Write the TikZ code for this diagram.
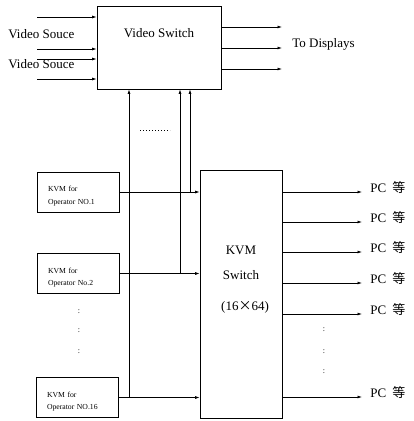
\documentclass[tikz,border=0pt]{standalone}
\usepackage{fontspec}
\setmainfont{Liberation Serif}
\newfontfamily\cjk{Noto Sans CJK SC}
\usetikzlibrary{positioning, arrows.meta}

\begin{document}
\begin{tikzpicture}[x=1pt, y=-1pt, line width=0.7pt,
    box/.style={rectangle, draw, inner sep=0pt},
    opbox/.style={box, minimum width=82pt, minimum height=40pt},
    optext/.style={inner sep=0pt, text width=60pt, align=left, yshift=-4pt,
        font=\fontsize{7.7}{12.5}\selectfont},
    arr/.style={-{Latex[length=4.5pt,width=3pt]}},
    lbl/.style={inner sep=0pt, font=\fontsize{13}{15}\selectfont},
    vdots/.style={inner sep=0pt, font=\fontsize{8}{8}\selectfont}]
    \useasboundingbox (0,0) rectangle (414,421);

    % video switch
    \node[box, minimum width=124pt, minimum height=83pt] (VS) at (159,47.5) {};
    \node[lbl] (VSname) at (159,33) {Video Switch};
    \node[lbl, anchor=west] (src1) at (8,34) {Video Souce};
    \node[lbl, anchor=west] (src2) at (8,64) {Video Souce};
    \node[lbl, anchor=west] (disp) at (292,44) {To Displays};
    \foreach \y [count=\i] in {17,49,59,79} {
        \coordinate (in\i) at (37,\y);
        \draw[arr] (in\i) -- (in\i -| VS.west);
    }
    \foreach \y [count=\i] in {27,48,69} {
        \coordinate (out\i) at (282,\y);
        \draw[arr] (out\i -| VS.east) -- (out\i);
    }

    % KVM switch
    \node[box, minimum width=82pt, minimum height=248pt] (KVM) at (241,294) {};
    \node[lbl] (KVMname) at (241,250) {KVM};
    \node[lbl] (KVMsw) at (241,275) {Switch};
    \node[lbl] (KVMsize) at (245,307) {(16{\cjk ×}64)};

    % operators
    \node[opbox, label={[optext]center:KVM for\\Operator NO.1}] (OP1) at (78,192) {};
    \node[opbox, label={[optext]center:KVM for\\Operator No.2}] (OP2) at (78,273.5) {};
    \node[opbox, label={[optext]center:KVM for\\Operator NO.16}] (OP16) at (77,397.5) {};
    \foreach \n in {1,2,16}
        \draw[arr] (OP\n) -- (OP\n -| KVM.west);
    \coordinate (br1) at (190,192);
    \coordinate (br2) at (180,273.5);
    \coordinate (br16) at (129,397.5);
    \foreach \n in {1,2,16}
        \draw[arr] (br\n) -- (br\n |- VS.south);
    \draw[dotted, line width=1pt] (140,130) coordinate (gapL) -- (170,130) coordinate (gapR);
    \foreach \y in {312,331,352}
        \node[vdots] at (79,\y) {:};

    % outputs to PCs
    \foreach \y [count=\i] in {192,222,252,283,314,397} {
        \coordinate (pc\i) at (362,\y);
        \draw[arr] (pc\i -| KVM.east) -- (pc\i);
        \node[lbl, anchor=base west] (pcname\i) at ([xshift=8pt]pc\i) {PC\hspace{6pt}{\cjk 等}};
    }
    \foreach \y in {330,352,372}
        \node[vdots] at (324,\y) {:};
\end{tikzpicture}
\end{document}
